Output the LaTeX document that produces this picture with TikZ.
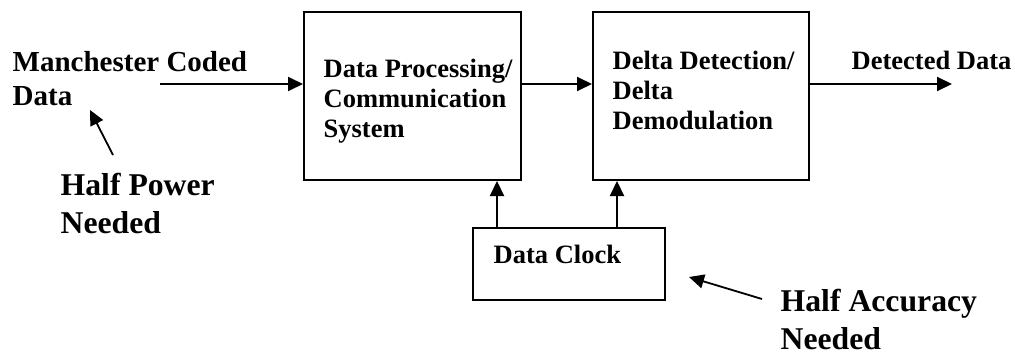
\documentclass[tikz,border=0pt]{standalone}
\usepackage{fontspec}
\setmainfont{Liberation Serif}
\usetikzlibrary{arrows.meta}
\tikzset{
  blockbox/.style={draw=black, line width=2pt, minimum width=#1, inner sep=0pt},
  lbl/.style={inner sep=0pt, anchor=base west, align=left},
  boxtxt/.style={lbl, font=\bfseries\fontsize{26.5}{30}\selectfont},
  iotxt/.style={lbl, font=\bfseries\fontsize{29}{34}\selectfont},
  bigtxt/.style={lbl, font=\bfseries\fontsize{31.7}{38}\selectfont},
  arr/.style={line width=2pt, -{Triangle[length=15pt,width=14pt]}},
  thinarr/.style={line width=1.8pt, -{Triangle[length=15pt,width=14pt]}}
}
\begin{document}
\begin{tikzpicture}[x=1pt,y=-1pt]
\useasboundingbox (0,0) rectangle (1015,353);
% blocks
\node[blockbox=217pt, minimum height=168pt] (proc) at (412.5,96) {};
\node[blockbox=216pt, minimum height=168pt] (delta) at (701,96) {};
\node[blockbox=192pt, minimum height=72pt] (clock) at (569,264) {};
% texts (anchor = baseline of last line)
\node[boxtxt] (proctxt) at (323.5,137) {Data Processing/\\Communication\\System};
\node[boxtxt] (deltatxt) at (612.5,129) {Delta Detection/\\Delta\\Demodulation};
\node[boxtxt] (clocktxt) at (493.5,263) {Data Clock};
\node[boxtxt] (outtxt) at (851.5,70) {Detected Data};
\node[iotxt] (intxt) at (12.5,106) {Manchester Coded\\Data};
\node[bigtxt] (hptxt) at (60.5,233.5) {Half Power\\Needed};
\node[bigtxt] (hatxt) at (780.5,349) {Half Accuracy\\Needed};
% connector coordinates
\coordinate (inStart) at (160,84);
\coordinate (outEnd) at (952,84);
\coordinate (upA) at (497,0);
\coordinate (upB) at (617,0);
\coordinate (hpTail) at (113,155);
\coordinate (hpTip) at (90,110);
\coordinate (haTail) at (762,299);
\coordinate (haTip) at (689,277);
% connectors
\draw[arr] (inStart) -- (inStart -| proc.west);
\draw[arr] (proc.east |- inStart) -- (delta.west |- inStart);
\draw[arr] (delta.east |- inStart) -- (outEnd);
\draw[arr] (clock.north -| upA) -- (proc.south -| upA);
\draw[arr] (clock.north -| upB) -- (delta.south -| upB);
\draw[thinarr] (hpTail) -- (hpTip);
\draw[thinarr] (haTail) -- (haTip);
\end{tikzpicture}
\end{document}
